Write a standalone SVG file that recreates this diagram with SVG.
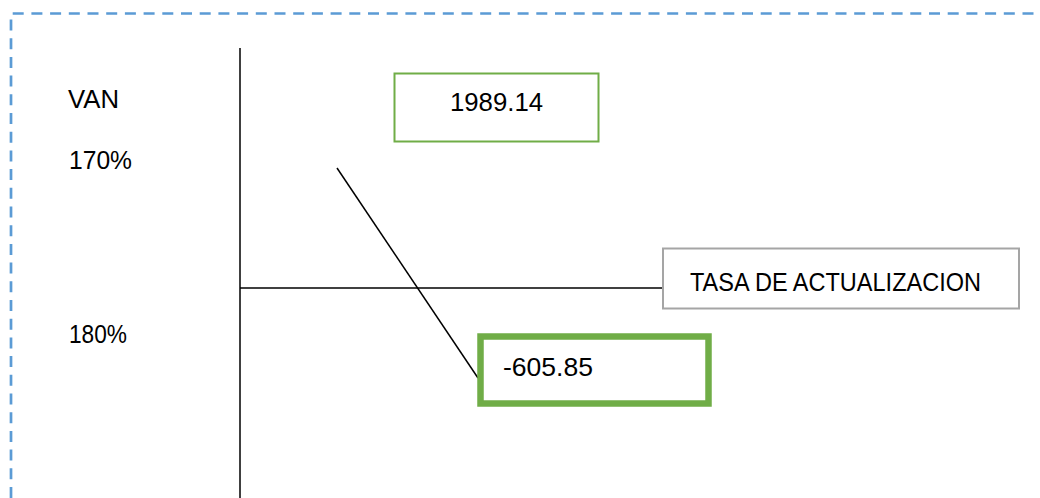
<svg xmlns="http://www.w3.org/2000/svg" width="1040" height="498" viewBox="0 0 1040 498">
<style>
text{font-family:"Liberation Sans",Arial,sans-serif;font-size:25px;fill:#000}
.ax{stroke:#000;stroke-width:1.5;fill:none}
</style>
<rect width="1040" height="498" fill="#fff"/>
<path d="M11,498 V13.5 H1040" fill="none" stroke="#5B9BD5" stroke-width="2.7" stroke-dasharray="11 7.7"/>
<g id="connectors">
<line class="ax" x1="240" y1="48" x2="240" y2="498"/>
<line class="ax" x1="240" y1="288" x2="663" y2="288"/>
<line class="ax" x1="337" y1="168" x2="478" y2="378"/>
</g>
<g id="labels">
<text x="68" y="108" textLength="51" lengthAdjust="spacingAndGlyphs">VAN</text>
<text x="69" y="169" textLength="63" lengthAdjust="spacingAndGlyphs">170%</text>
<text x="69" y="343" textLength="58" lengthAdjust="spacingAndGlyphs">180%</text>
</g>
<g id="node-1989">
<rect x="394.5" y="73.5" width="204" height="68" fill="#fff" stroke="#70AD47" stroke-width="2"/>
<text x="450" y="111" textLength="93" lengthAdjust="spacingAndGlyphs">1989.14</text>
</g>
<g id="node-tasa">
<rect x="663" y="248.5" width="356" height="60" fill="#fff" stroke="#A5A5A5" stroke-width="2"/>
<text x="690" y="291" textLength="291" lengthAdjust="spacingAndGlyphs">TASA DE ACTUALIZACION</text>
</g>
<g id="node-605">
<rect x="480.5" y="336.5" width="228" height="67" fill="#fff" stroke="#70AD47" stroke-width="6.5"/>
<text x="503" y="376" textLength="90" lengthAdjust="spacingAndGlyphs">-605.85</text>
</g>
</svg>
